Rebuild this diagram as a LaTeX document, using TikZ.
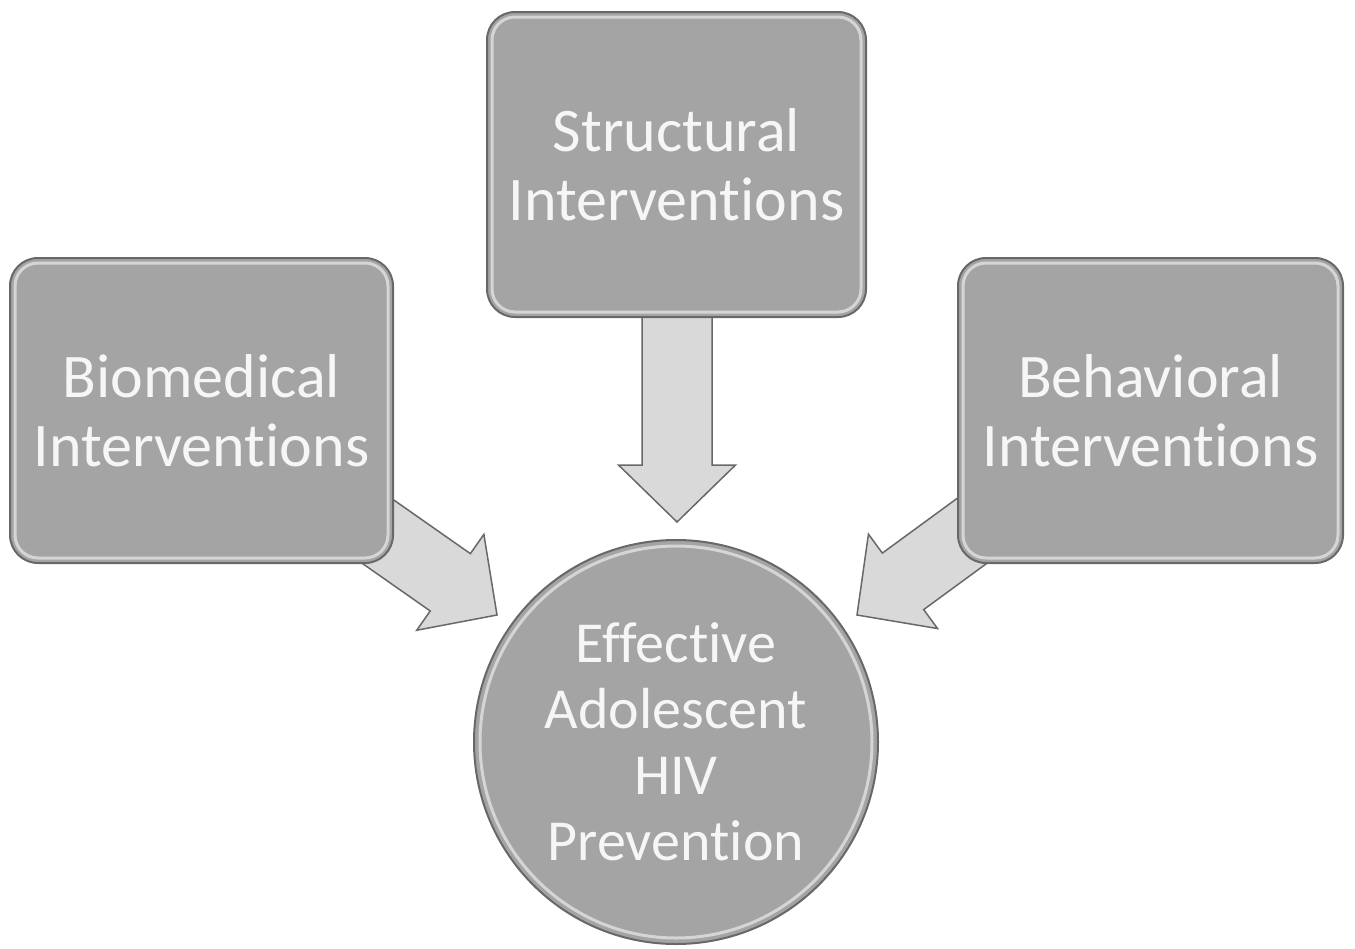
\documentclass[tikz,border=0pt]{standalone}
\usepackage{fontspec}
\setmainfont{Carlito}[Ligatures={NoCommon}]
\definecolor{boxgray}{HTML}{A4A4A4}
\definecolor{edgegray}{HTML}{686868}
\definecolor{arrowfill}{HTML}{D9D9D9}
\definecolor{txt}{HTML}{F6F6F6}
\begin{document}
\begin{tikzpicture}[x=1pt,y=-1pt,
  box/.style={draw=edgegray, line width=2pt, fill=boxgray, rounded corners=28pt,
    text=txt, font=\fontsize{62}{69}\selectfont, align=center,
    minimum height=305pt, inner sep=0pt},
  goal/.style={circle, draw=edgegray, line width=2pt, fill=boxgray,
    text=txt, font=\fontsize{58}{66}\selectfont, align=center,
    minimum size=404pt, inner sep=0pt},
  rim/.style={draw=white, line width=3pt, opacity=0.55, rounded corners=23pt},
  blockarrow/.style={draw=edgegray, line width=1.5pt, fill=arrowfill, line join=miter}]
\useasboundingbox (0,0) rectangle (1355,948);

% block arrows (drawn first, boxes cover their tails)
\begin{scope}[shift={(677,522)}, rotate=-90]
  \draw[blockarrow] (0,0) -- (-57,58.5) -- (-57,35) -- (-205,35) -- (-205,-35) -- (-57,-35) -- (-57,-58.5) -- cycle;
\end{scope}
\begin{scope}[shift={(497,615)}, rotate=-35]
  \draw[blockarrow] (0,0) -- (-57,58.5) -- (-57,35) -- (-200,35) -- (-200,-35) -- (-57,-35) -- (-57,-58.5) -- cycle;
\end{scope}
\begin{scope}[shift={(857,615)}, rotate=-143.8]
  \draw[blockarrow] (0,0) -- (-57,58.5) -- (-57,35) -- (-200,35) -- (-200,-35) -- (-57,-35) -- (-57,-58.5) -- cycle;
\end{scope}

% boxes
\node[box, minimum width=379pt] (struct) at (676.5,164.5) {Structural\\Interventions};
\node[box, minimum width=383pt] (bio) at (201.5,410.5) {Biomedical\\Interventions};
\node[box, minimum width=385pt] (behav) at (1150.5,410.5) {Behavioral\\Interventions};
\foreach \n in {struct,bio,behav}
  \draw[rim] ([shift={(6,6)}]\n.north west) rectangle ([shift={(-6,-6)}]\n.south east);

% goal circle
\node[goal] (eff) at (676,742) {Effective\\Adolescent\\HIV\\Prevention};
\draw[draw=white, line width=3pt, opacity=0.55] (eff.center) circle (196);
\end{tikzpicture}
\end{document}
